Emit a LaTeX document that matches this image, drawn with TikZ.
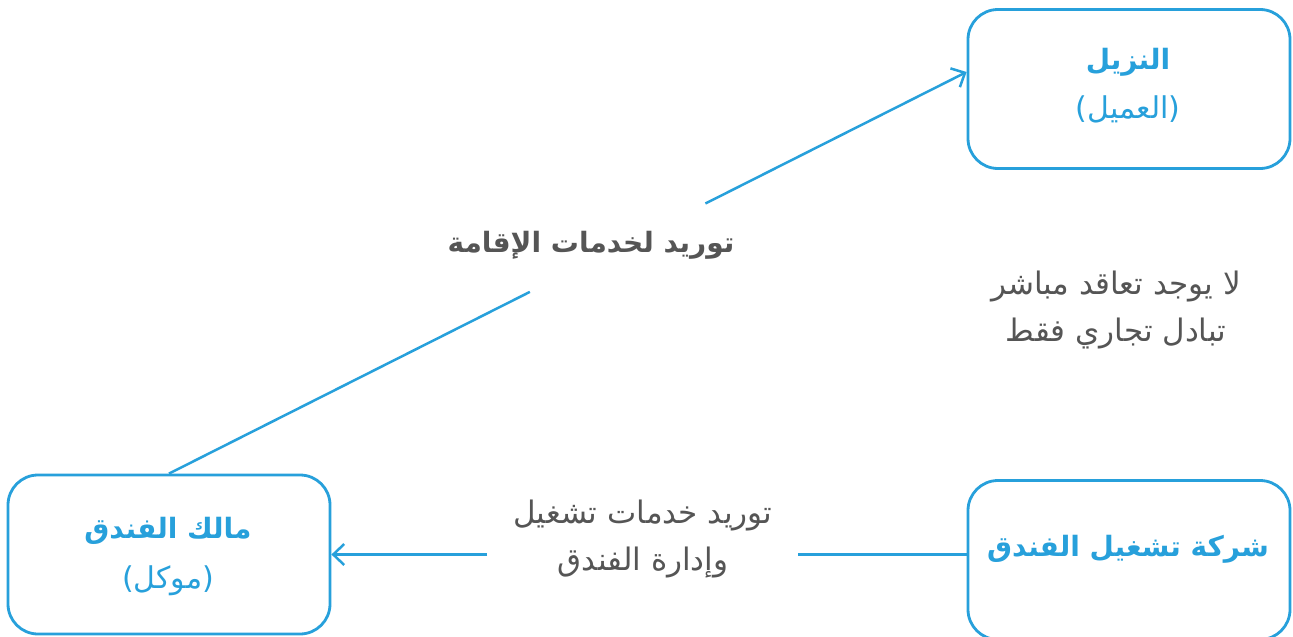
\documentclass[tikz,border=0pt]{standalone}
\usepackage{fontspec}
\usetikzlibrary{arrows.meta}
\newfontfamily\arabicfont[Script=Arabic]{DejaVu Sans}
\TeXXeTstate=1
\definecolor{bl}{HTML}{27A0DB}
\definecolor{gr}{HTML}{555555}
\newcommand{\AR}[1]{\beginR #1\endR}
\begin{document}
\begin{tikzpicture}[x=1pt,y=-1pt,
  box/.style={draw=bl, line width=2.8pt, rounded corners=30pt, minimum width=322pt, minimum height=159pt, inner sep=0pt},
  title/.style={text=bl, font=\arabicfont\bfseries\fontsize{28}{30}\selectfont, inner sep=0pt},
  sub/.style={text=bl, font=\arabicfont\fontsize{30}{30}\selectfont, inner sep=0pt},
  glab/.style={text=gr, font=\arabicfont\fontsize{31}{47}\selectfont, align=center, inner sep=0pt},
  glabb/.style={text=gr, font=\arabicfont\bfseries\fontsize{28}{30}\selectfont, inner sep=0pt},
  conn/.style={draw=bl, line width=2.5pt},
  tip/.style={-{Straight Barb[length=11pt,width=21pt]}}
]
\useasboundingbox (0,0) rectangle (1293,637);
\clip (0,0) rectangle (1293,637);
\fill[white] (0,0) rectangle (1293,637);

\node[box] (guest) at (1129,89) {};
\node[box] (owner) at (169,554.5) {};
\node[box] (firm) at (1129,560) {};

\node[title] (guestT) at (1128,62) {\AR{النزيل}};
\node[sub] (guestS) at (1128,109) {)\AR{العميل}(};
\node[title] (ownerT) at (168,531) {\AR{مالك الفندق}};
\node[sub] (ownerS) at (168,581) {)\AR{موكل}(};
\node[title] (firmT) at (1128,549) {\AR{شركة تشغيل الفندق}};

\node[glabb] (supply) at (591,245) {\AR{توريد لخدمات الإقامة}};
\node[glab] (ops) at (643,539) {\AR{توريد خدمات تشغيل}\\\AR{وإدارة الفندق}};
\node[glab] (nocon) at (1116,310) {\AR{لا يوجد تعاقد مباشر}\\\AR{تبادل تجاري فقط}};

\coordinate (gin) at ([yshift=17pt]guest.west);
\path (owner.north) -- (gin) coordinate[pos=0.4525] (g1) coordinate[pos=0.6725] (g2);
\draw[conn] (owner.north) -- (g1);
\draw[conn,tip] (g2) -- (gin);

\coordinate (fout) at (owner.east -| firm.west);
\coordinate (h1) at (798,554.5);
\coordinate (h2) at (487,554.5);
\draw[conn] (fout) -- (h1);
\draw[conn,tip] (h2) -- (owner.east);
\end{tikzpicture}
\end{document}
